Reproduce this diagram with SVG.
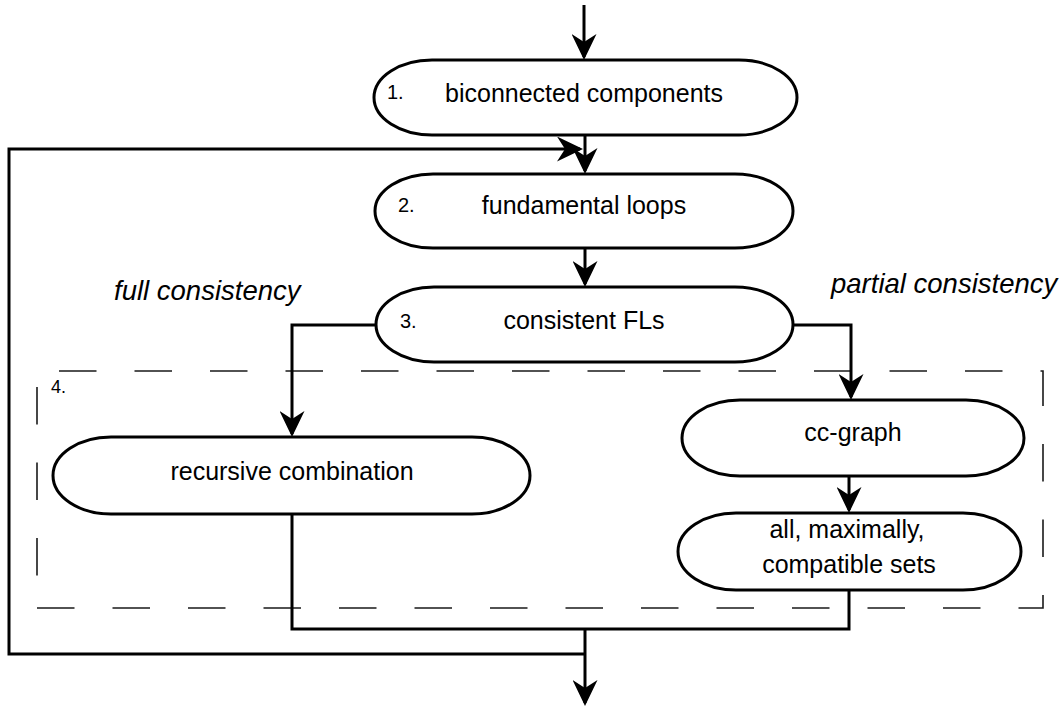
<svg xmlns="http://www.w3.org/2000/svg" width="1064" height="706" viewBox="0 0 1064 706">
<style>
.node{fill:#fff;stroke:#000;stroke-width:3}
.t{font-family:"Liberation Sans",Arial,sans-serif;font-size:25px;fill:#000;text-anchor:middle}
.n{font-family:"Liberation Sans",Arial,sans-serif;font-size:20px;fill:#000}
.it{font-family:"Liberation Sans",Arial,sans-serif;font-size:27.5px;font-style:italic;fill:#000}
.c{fill:none;stroke:#000;stroke-width:3;stroke-linejoin:miter}
.a{marker-end:url(#arr)}
.dash{fill:none;stroke:#1a1a1a;stroke-width:1.6;stroke-dasharray:37.5 38}
</style>
<defs>
<marker id="arr" markerUnits="userSpaceOnUse" viewBox="0 0 26 25" refX="23" refY="12.5" markerWidth="26" markerHeight="25" orient="auto">
<path d="M0,0 L26,12.5 L0,25 L8,12.5 Z" fill="#000"/>
</marker>
</defs>
<rect width="1064" height="706" fill="#fff"/>
<g id="box4">
<path class="dash" d="M37,608 H1043 V371 H37 Z"/>
<text class="n" x="51" y="393" style="font-size:18px">4.</text>
</g>
<g id="labels">
<text class="it" x="114" y="300">full consistency</text>
<text class="it" x="831" y="293">partial consistency</text>
</g>
<g id="connectors">
<path class="c a" d="M584,5 V57"/>
<path class="c a" d="M585,135 V171"/>
<path class="c a" d="M585,248 V284"/>
<path class="c a" d="M376,325 H292 V434"/>
<path class="c a" d="M793,325 H851 V397"/>
<path class="c a" d="M849,476 V510"/>
<path class="c" d="M292,514 V629 H849 V590"/>
<path class="c a" d="M585,629 V703"/>
<path class="c a" d="M585,654 H9 V149 H580"/>
</g>
<g id="n1">
<rect class="node" x="374" y="60" width="423" height="75" rx="58" ry="37.5"/>
<text class="n" x="387" y="99">1.</text>
<text class="t" x="584" y="102">biconnected components</text>
</g>
<g id="n2">
<rect class="node" x="375" y="174" width="418" height="74" rx="58" ry="37"/>
<text class="n" x="398" y="212">2.</text>
<text class="t" x="584" y="214">fundamental loops</text>
</g>
<g id="n3">
<rect class="node" x="376" y="287" width="417" height="75" rx="58" ry="37.5"/>
<text class="n" x="400" y="328">3.</text>
<text class="t" x="584" y="329">consistent FLs</text>
</g>
<g id="rc">
<rect class="node" x="53" y="437" width="477" height="77" rx="58" ry="38.5"/>
<text class="t" x="292" y="480">recursive combination</text>
</g>
<g id="cc">
<rect class="node" x="682" y="400" width="342" height="76" rx="58" ry="38"/>
<text class="t" x="853" y="441">cc-graph</text>
</g>
<g id="all">
<rect class="node" x="678" y="513" width="343" height="77" rx="58" ry="38.5"/>
<text class="t" x="847" y="538">all, maximally,</text>
<text class="t" x="849" y="573">compatible sets</text>
</g>
</svg>
